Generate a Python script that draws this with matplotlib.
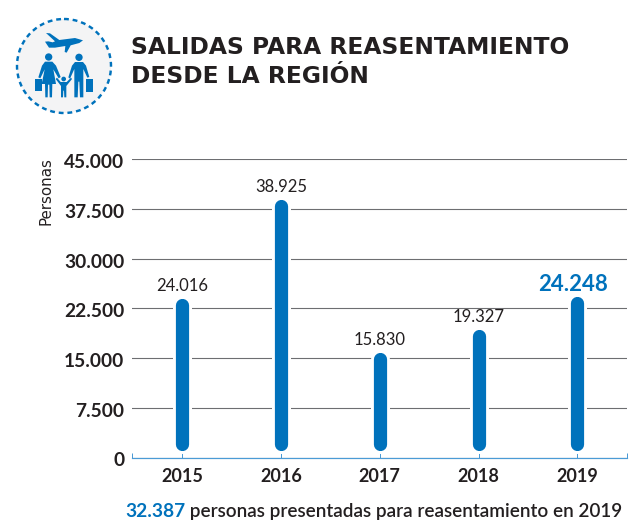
import matplotlib
matplotlib.use('Agg')
import matplotlib.pyplot as plt
from matplotlib.patches import Circle, Polygon, Rectangle
from matplotlib.transforms import ScaledTranslation

years = ['2015', '2016', '2017', '2018', '2019']
values = [24016, 38925, 15830, 19327, 24248]
value_labels = ['24.016', '38.925', '15.830', '19.327', '24.248']
y_ticks = [0, 7500, 15000, 22500, 30000, 37500, 45000]
y_tick_labels = ['0', '7.500', '15.000', '22.500', '30.000', '37.500', '45.000']

title = 'SALIDAS PARA REASENTAMIENTO\nDESDE LA REGIÓN'
y_label = 'Personas'
note_number = '32.387'
note_text = ' personas presentadas para reasentamiento en 2019'

blue = '#0072bc'
axis_blue = '#4b9bd6'
dark = '#231f20'
grid_grey = '#6d6e71'
PX = 72 / 100  # points per pixel at dpi 100

plt.rcParams['font.family'] = ['Lato', 'DejaVu Sans']

fig = plt.figure(figsize=(6.29, 5.23), dpi=100, facecolor='white')
W, H = 629, 523
ax = fig.add_axes([132 / W, 1 - 457.5 / H, (627 - 132) / W, (457.5 - 159) / H])
ax.set_xlim(-0.509, 4.503)
ax.set_ylim(0, 45000)

ax.set_axisbelow(True)
ax.yaxis.grid(True, color=grid_grey, lw=1.1 * PX)
ax.xaxis.grid(False)
for name in ['top', 'right', 'left']:
    ax.spines[name].set_visible(False)
ax.spines['bottom'].set_color(axis_blue)
ax.spines['bottom'].set_linewidth(1.2 * PX)

ax.set_yticks(y_ticks)
ax.set_yticklabels(y_tick_labels, fontsize=13.8, fontweight='bold', color=dark)
ax.tick_params(axis='y', length=0, pad=7 * PX * 1.1)
# the labels sit a little under their gridlines
for label in ax.get_yticklabels():
    label.set_transform(label.get_transform() + ScaledTranslation(0, -2 / 100, fig.dpi_scale_trans))

x = list(range(len(years)))
ax.set_xticks(x)
ax.set_xticklabels(years, fontsize=13, fontweight='bold', color=dark)
ax.set_xticks([-0.509, 4.503], minor=True)
ax.tick_params(axis='x', which='both', direction='in', length=5 * PX, width=1 * PX, color=axis_blue)
ax.tick_params(axis='x', which='major', pad=10 * PX)

units_per_px = 45000 / (457.5 - 159)
radius = 6.6 * units_per_px
gap = 7 * units_per_px
for i, v in enumerate(values):
    ax.plot([i, i], [gap + radius, v - radius], color='white', lw=19 * PX,
            solid_capstyle='round', zorder=3)
    ax.plot([i, i], [gap + radius, v - radius], color=blue, lw=13.2 * PX,
            solid_capstyle='round', zorder=4)
    if i == len(values) - 1:
        ax.annotate(value_labels[i], (i, v), xytext=(-4 * PX, 6 * PX), textcoords='offset points',
                    ha='center', va='baseline', fontsize=16, fontweight='bold', color=blue, zorder=5)
    else:
        ax.annotate(value_labels[i], (i, v), xytext=(0, 7 * PX), textcoords='offset points',
                    ha='center', va='baseline', fontsize=12, color=dark, zorder=5)

# overlay in pixel coordinates for the header, icon and note
ov = fig.add_axes([0, 0, 1, 1], facecolor='none')
ov.set_xlim(0, W)
ov.set_ylim(H, 0)
ov.axis('off')

ov.text(131, 54, title.split('\n')[0], fontsize=16.8, fontweight='bold', color=dark,
        family='DejaVu Sans', va='baseline', ha='left')
ov.text(131, 83, title.split('\n')[1], fontsize=16.8, fontweight='bold', color=dark,
        family='DejaVu Sans', va='baseline', ha='left')
ov.text(46, 191, y_label, rotation=90, fontsize=10.8, color=dark, family='DejaVu Sans',
        ha='center', va='center')

first = ov.text(125, 517, note_number, fontsize=13.8, fontweight='bold', color=blue, va='baseline')
ov.annotate(note_text, xy=(1, 0), xycoords=first, xytext=(0, 0), textcoords='offset points',
            fontsize=13.6, fontweight='semibold', color=dark, va='bottom')

# icon: shapes traced in zoomed pixels, divided by 3 below
ov.add_patch(Circle((64, 66), 47, facecolor='#f4f4f5', edgecolor=blue, lw=2.2 * PX * 1.1,
                    linestyle=(0, (2.0, 1.6))))


def shape(points):
    ov.add_patch(Polygon([(a / 3, b / 3) for a, b in points], closed=True, facecolor=blue, edgecolor='none'))


def head(a, b, r):
    ov.add_patch(Circle((a / 3, b / 3), r / 3, facecolor=blue, edgecolor='none'))


shape([(138, 99), (150, 100), (178, 120), (225, 114), (249, 121), (238, 129), (212, 136), (200, 158),
       (194, 156), (196, 138), (165, 143), (147, 143), (135, 125), (145, 124), (158, 127), (165, 124)])

# woman
head(146, 171, 11)
shape([(135, 185), (157, 185), (168, 197), (182, 231), (176, 235), (160, 208), (168, 252), (157, 252),
       (156, 292), (149, 292), (148, 254), (144, 254), (143, 292), (136, 292), (135, 252), (125, 252),
       (134, 208), (121, 235), (115, 232), (126, 197)])
# man
head(237, 172, 11)
shape([(225, 186), (249, 186), (258, 197), (268, 231), (262, 233), (250, 207), (250, 292), (240, 292),
       (238, 245), (235, 245), (233, 292), (223, 292), (223, 207), (210, 236), (205, 232), (216, 197)])
# child
head(191, 237, 7)
shape([(182, 246), (200, 246), (213, 233), (216, 237), (199, 258), (199, 292), (193, 292), (192, 272),
       (190, 272), (189, 292), (183, 292), (183, 258), (167, 237), (171, 233)])
# suitcases
for a, b in [(106, 237), (259, 238)]:
    ov.add_patch(Rectangle((a / 3, b / 3), 19 / 3, 37 / 3, facecolor=blue, edgecolor='none'))

fig.savefig('out.png', dpi=100, facecolor='white')
